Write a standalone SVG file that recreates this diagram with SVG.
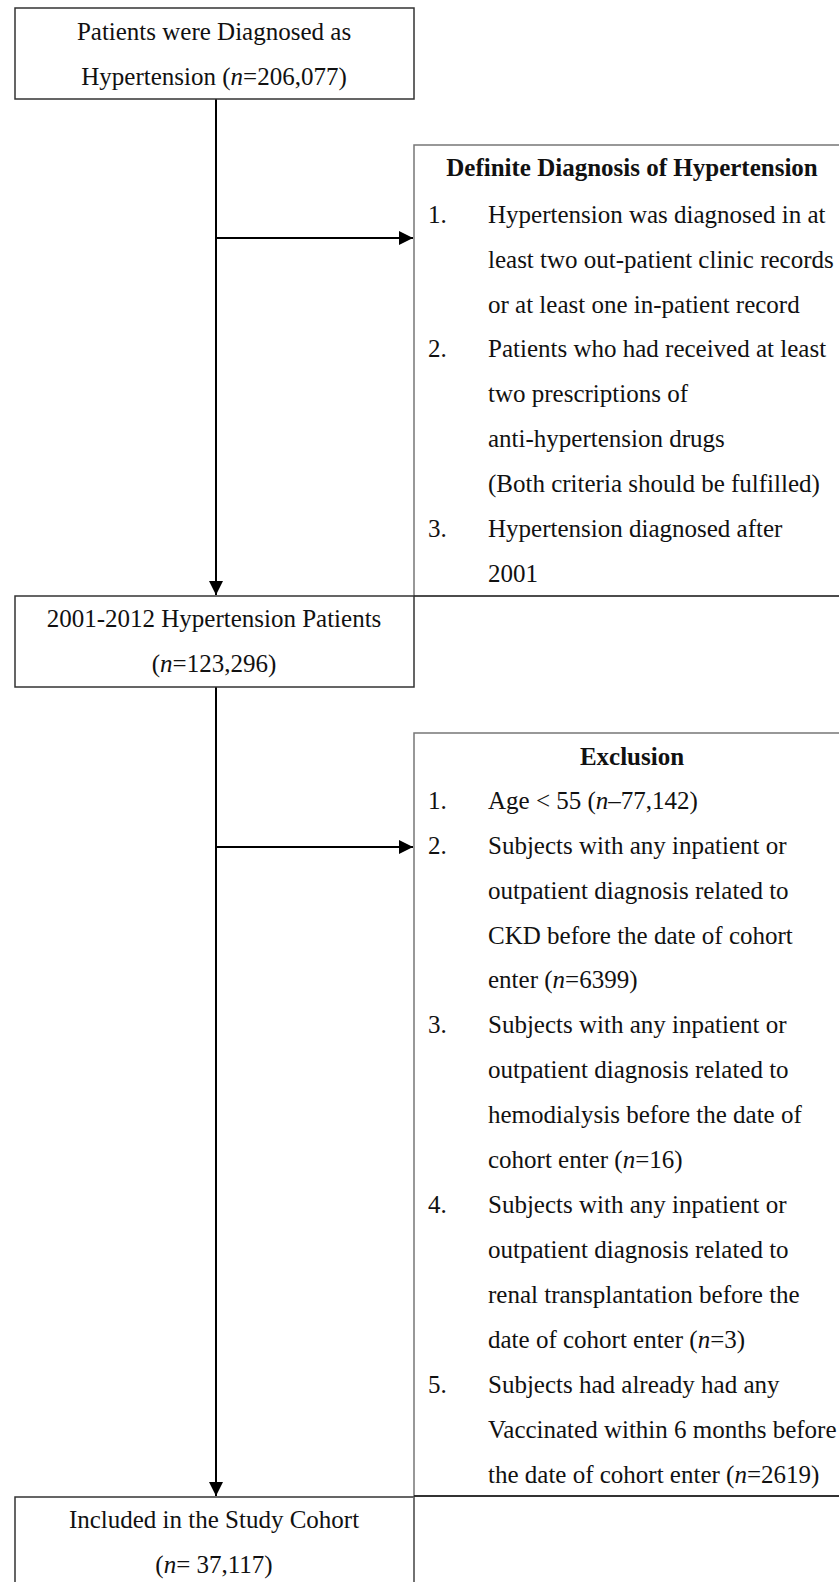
<svg xmlns="http://www.w3.org/2000/svg" width="839" height="1582" viewBox="0 0 839 1582">
<style>
text{font-family:"Liberation Serif","Times New Roman",serif;font-size:25px;fill:#111}
.c{text-anchor:middle}
.b{font-weight:bold}
.i{font-style:italic}
.box{fill:#fff;stroke:#333;stroke-width:1.5}
.gbox{fill:#fff;stroke:#777;stroke-width:1.5}
.ln{stroke:#000;stroke-width:2;fill:none}
</style>
<defs>
<marker id="ah" markerWidth="14" markerHeight="14" refX="14" refY="7" orient="auto" markerUnits="userSpaceOnUse">
<path d="M0,0 L14,7 L0,14 Z" fill="#000"/>
</marker>
</defs>
<g id="connectors">
<line class="ln" x1="216" y1="99" x2="216" y2="595" marker-end="url(#ah)"/>
<line class="ln" x1="216" y1="238" x2="413" y2="238" marker-end="url(#ah)"/>
<line class="ln" x1="216" y1="687" x2="216" y2="1496" marker-end="url(#ah)"/>
<line class="ln" x1="216" y1="847" x2="413" y2="847" marker-end="url(#ah)"/>
</g>
<g id="n1">
<rect class="box" x="15" y="8" width="399" height="91"/>
<text class="c" x="214" y="40">Patients were Diagnosed as</text>
<text class="c" x="214" y="85">Hypertension (<tspan class="i">n</tspan>=206,077)</text>
</g>
<g id="definite">
<rect class="gbox" x="414" y="145" width="440" height="451"/>
<text class="c b" x="632" y="176">Definite Diagnosis of Hypertension</text>
<text x="428" y="223">1.</text>
<text x="488" y="223">Hypertension was diagnosed in at</text>
<text x="488" y="268">least two out-patient clinic records</text>
<text x="488" y="313">or at least one in-patient record</text>
<text x="428" y="357">2.</text>
<text x="488" y="357">Patients who had received at least</text>
<text x="488" y="402">two prescriptions of</text>
<text x="488" y="447">anti-hypertension drugs</text>
<text x="488" y="492">(Both criteria should be fulfilled)</text>
<text x="428" y="537">3.</text>
<text x="488" y="537">Hypertension diagnosed after</text>
<text x="488" y="582">2001</text>
</g>
<g id="n2">
<line x1="414" y1="596" x2="839" y2="596" stroke="#333" stroke-width="1.5"/>
<rect class="box" x="15" y="596" width="399" height="91"/>
<text class="c" x="214" y="627">2001-2012 Hypertension Patients</text>
<text class="c" x="214" y="672">(<tspan class="i">n</tspan>=123,296)</text>
</g>
<g id="exclusion">
<rect class="gbox" x="414" y="733" width="440" height="763"/>
<text class="c b" x="632" y="765">Exclusion</text>
<text x="428" y="809">1.</text>
<text x="488" y="809">Age &lt; 55 (<tspan class="i">n</tspan>–77,142)</text>
<text x="428" y="854">2.</text>
<text x="488" y="854">Subjects with any inpatient or</text>
<text x="488" y="899">outpatient diagnosis related to</text>
<text x="488" y="944">CKD before the date of cohort</text>
<text x="488" y="988">enter (<tspan class="i">n</tspan>=6399)</text>
<text x="428" y="1033">3.</text>
<text x="488" y="1033">Subjects with any inpatient or</text>
<text x="488" y="1078">outpatient diagnosis related to</text>
<text x="488" y="1123">hemodialysis before the date of</text>
<text x="488" y="1168">cohort enter (<tspan class="i">n</tspan>=16)</text>
<text x="428" y="1213">4.</text>
<text x="488" y="1213">Subjects with any inpatient or</text>
<text x="488" y="1258">outpatient diagnosis related to</text>
<text x="488" y="1303">renal transplantation before the</text>
<text x="488" y="1348">date of cohort enter (<tspan class="i">n</tspan>=3)</text>
<text x="428" y="1393">5.</text>
<text x="488" y="1393">Subjects had already had any</text>
<text x="488" y="1438">Vaccinated within 6 months before</text>
<text x="488" y="1483">the date of cohort enter (<tspan class="i">n</tspan>=2619)</text>
</g>
<g id="n3">
<line x1="414" y1="1496" x2="839" y2="1496" stroke="#111" stroke-width="1.5"/>
<rect class="box" x="15" y="1497" width="399" height="120"/>
<line x1="414" y1="1497" x2="414" y2="1582" stroke="#777" stroke-width="1.5"/>
<text class="c" x="214" y="1528">Included in the Study Cohort</text>
<text class="c" x="214" y="1573">(<tspan class="i">n</tspan>= 37,117)</text>
</g>
</svg>
